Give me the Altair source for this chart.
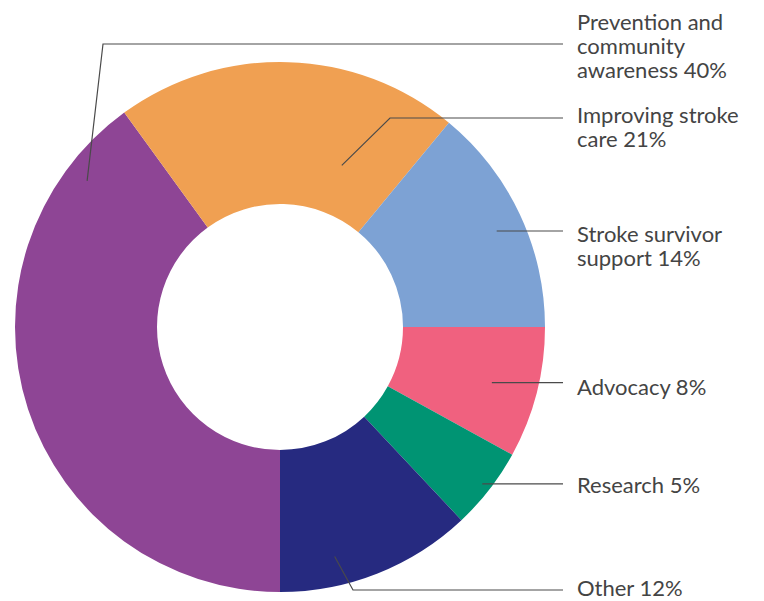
import math
import altair as alt

# ---- data ----
categories = ["Advocacy", "Research", "Other",
              "Prevention and community awareness",
              "Improving stroke care", "Stroke survivor support"]
values = [8, 5, 12, 40, 21, 14]
label_lines = [["Advocacy 8%"], ["Research 5%"], ["Other 12%"],
               ["Prevention and", "community", "awareness 40%"],
               ["Improving stroke", "care 21%"],
               ["Stroke survivor", "support 14%"]]
colors = ["#F0617F", "#009473", "#262A80", "#8E4595", "#F0A052", "#7DA2D4"]

# ---- layout (chart pixel space) ----
CX, CY = 272, 319
R_OUT, R_IN = 265, 123
anchor_frac = [0.51, 0.5, 0.69, 0.883, 0.753, 0.526]   # position of leader start within slice
anchor_rad = [219, 256, 236, 242, 173, 237]
elbow = [None, None, (345, 582), (95, 36), (382, 110), None]
LINE_END_X = 555
TEXT_X = 569
text_dy = [12, 9, 6, -14, 5, 11]
START = math.pi / 2

total = sum(values)
arc_rows, line_rows, text_rows = [], [], []
cum = 0
for i, (c, v) in enumerate(zip(categories, values)):
    arc_rows.append({"category": c, "value": v, "idx": i})
    ang = START + 2 * math.pi * (cum + anchor_frac[i] * v) / total
    ax = CX + anchor_rad[i] * math.sin(ang)
    ay = CY - anchor_rad[i] * math.cos(ang)
    pts = [(ax, ay)]
    if elbow[i] is not None:
        pts.append(elbow[i])
        ly = elbow[i][1]
    else:
        ly = ay
    pts.append((LINE_END_X, ly))
    for s, (px, py) in enumerate(pts):
        line_rows.append({"category": c, "seq": s, "px": px, "py": py})
    text_rows.append({"category": c, "lines": label_lines[i], "tx": TEXT_X, "ty": ly + text_dy[i]})
    cum += v

arcs = alt.Chart(alt.Data(values=arc_rows)).mark_arc(
    radius=R_OUT, radius2=R_IN, stroke=None
).encode(
    theta=alt.Theta("value:Q", stack=True,
                    scale=alt.Scale(range=[START, START + 2 * math.pi])),
    color=alt.Color("category:N", scale=alt.Scale(domain=categories, range=colors), legend=None),
    order=alt.Order("idx:Q"),
    x=alt.value(CX),
    y=alt.value(CY),
)

lines = alt.Chart(alt.Data(values=line_rows)).mark_line(
    color="#4a4a4a", strokeWidth=1.2
).encode(
    x=alt.X("px:Q", scale=None),
    y=alt.Y("py:Q", scale=None),
    detail="category:N",
    order="seq:Q",
)

texts = alt.Chart(alt.Data(values=text_rows)).mark_text(
    align="left", baseline="alphabetic", font="Lato", fontSize=22,
    lineHeight=24, color="#444444"
).encode(
    x=alt.X("tx:Q", scale=None),
    y=alt.Y("ty:Q", scale=None),
    text=alt.Text("lines:N"),
)

chart = alt.layer(arcs, lines, texts).properties(
    width=748, height=593, padding=0, autosize="none"
).configure_view(stroke=None)

chart.save("out.html", embed_options={"renderer": "svg", "actions": False})
